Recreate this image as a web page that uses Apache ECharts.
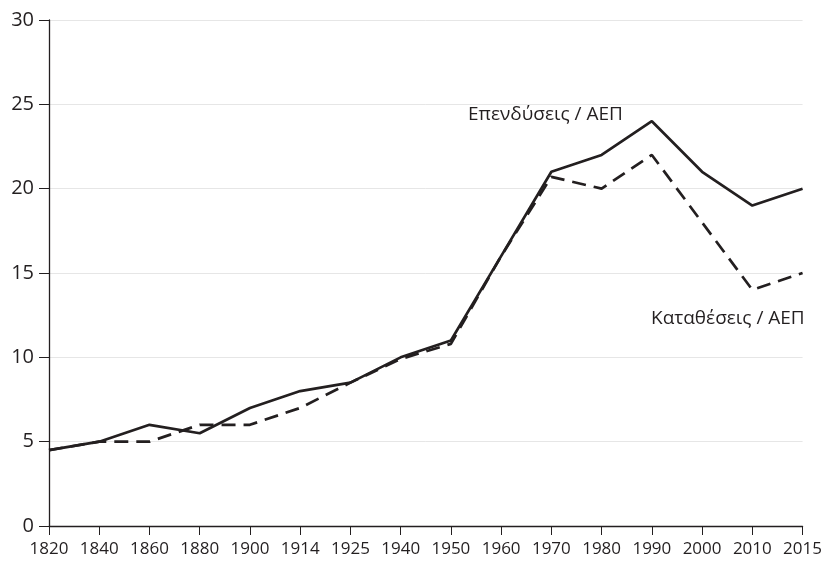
<!DOCTYPE html>
<html>
<head>
<meta charset="utf-8">
<script src="https://cdn.jsdelivr.net/npm/echarts@6/dist/echarts.min.js"></script>
<style>
  html, body { margin: 0; padding: 0; background: #fff; }
  #chart { width: 825px; height: 561px; }
</style>
</head>
<body>
<div id="chart"></div>
<script>
const years = ['1820','1840','1860','1880','1900','1914','1925','1940','1950','1960','1970','1980','1990','2000','2010','2015'];
const investmentGdp = [4.5, 5, 6, 5.5, 7, 8, 8.5, 10, 11, 16, 21, 22, 24, 21, 19, 20];
const depositsGdp   = [4.5, 5, 5, 6, 6, 7, 8.5, 9.9, 10.8, 16, 20.7, 20, 22, 18, 14, 15];
const investmentLabel = 'Επενδύσεις / ΑΕΠ';
const depositsLabel = 'Καταθέσεις / ΑΕΠ';

const ink = '#231f20';
const font = 'Open Sans';

const chart = echarts.init(document.getElementById('chart'), null, { renderer: 'canvas' });
chart.setOption({
  animation: false,
  backgroundColor: '#ffffff',
  grid: { left: 49, right: 22, top: 20, bottom: 35, containLabel: false },
  xAxis: {
    type: 'category',
    data: years,
    boundaryGap: false,
    axisLine: { lineStyle: { color: ink, width: 1.3 } },
    axisTick: { show: true, length: 9, alignWithLabel: true, lineStyle: { color: ink, width: 1 } },
    axisLabel: { color: ink, fontFamily: font, fontSize: 17, margin: 15, interval: 0 },
    splitLine: { show: false }
  },
  yAxis: {
    type: 'value',
    min: 0, max: 30, interval: 5,
    axisLine: { show: true, lineStyle: { color: ink, width: 1.3 } },
    axisTick: { show: true, length: 10, lineStyle: { color: ink, width: 1 } },
    axisLabel: { color: ink, fontFamily: font, fontSize: 20, margin: 15 },
    splitLine: { show: true, lineStyle: { color: '#e6e6e6', width: 1 } }
  },
  series: [
    {
      name: investmentLabel,
      type: 'line',
      data: investmentGdp,
      symbol: 'none',
      lineStyle: { color: ink, width: 2.7, type: 'solid' },
      z: 3
    },
    {
      name: depositsLabel,
      type: 'line',
      data: depositsGdp,
      symbol: 'none',
      lineStyle: { color: ink, width: 2.7, type: [14, 8] },
      z: 2
    }
  ],
  graphic: [
    {
      type: 'text', left: 468, top: 105,
      style: { text: investmentLabel, fill: ink, font: '19px "Open Sans"' }
    },
    {
      type: 'text', left: 651, top: 309,
      style: { text: depositsLabel, fill: ink, font: '19px "Open Sans"' }
    }
  ]
});
</script>
</body>
</html>
